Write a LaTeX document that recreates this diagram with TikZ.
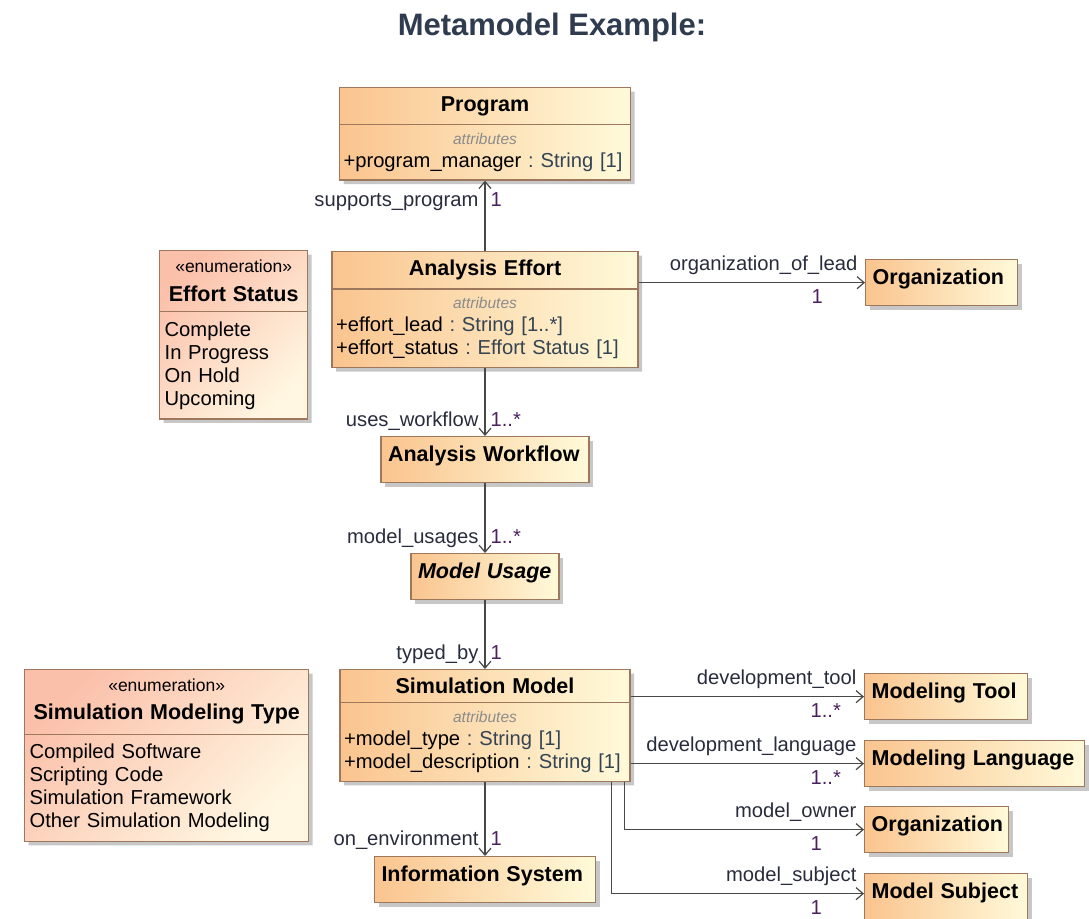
\documentclass[tikz,border=0pt]{standalone}
\usepackage{fontspec}
\setmainfont{Liberation Sans}
\usepackage{tikz}
\usetikzlibrary{arrows.meta,shapes,shapes.multipart,shadows,positioning}
\definecolor{clsL}{RGB}{250,196,142}
\definecolor{clsR}{RGB}{255,250,218}
\definecolor{enmL}{RGB}{251,192,170}
\definecolor{enmR}{RGB}{255,247,226}
\definecolor{cedge}{RGB}{158,120,92}
\definecolor{cline}{RGB}{72,72,72}
\definecolor{ctitle}{RGB}{47,59,78}
\definecolor{ctype}{RGB}{52,68,84}
\definecolor{crole}{RGB}{40,44,60}
\definecolor{cmult}{RGB}{74,32,96}
\definecolor{cattr}{RGB}{140,140,140}
\frenchspacing
\newcommand{\fbody}{\fontsize{20.2}{23}\selectfont}
\newcommand{\hd}[1]{{\fontsize{21.5}{25}\selectfont\bfseries #1}}
\newcommand{\attrs}{{\fontsize{15.5}{18}\selectfont\itshape\color{cattr}attributes}}
\newcommand{\ty}[1]{\textcolor{ctype}{#1}}
\newcommand{\stereo}{{\fontsize{17.5}{20}\selectfont «enumeration»}}
\newcommand{\ctr}[1]{\noindent\hbox to\hsize{\hfil#1\hfil}}

\begin{document}
\begin{tikzpicture}[x=1pt,y=-1pt,>={Straight Barb[length=7pt,width=12pt]},
  cls/.style={draw=cedge,line width=1.3pt,left color=clsL,right color=clsR,
              drop shadow={shadow xshift=4pt,shadow yshift=-4pt,fill=black,opacity=.22},
              font=\fbody,inner xsep=4pt,inner ysep=8pt},
  splt/.style={cls,rectangle split,rectangle split parts=2,align=left,anchor=north},
  enm/.style={splt,top color=enmL,bottom color=enmR,shading angle=45,
              inner xsep=5pt,inner ysep=9pt,anchor=north west},
  box/.style={cls,anchor=north west,align=left,inner xsep=7pt,inner ysep=10pt,
              text height=15pt,text depth=11pt},
  link/.style={->,draw=cline,line width=1.2pt},
  role/.style={font=\fbody,text=crole,inner sep=0pt},
  mult/.style={font=\fbody,text=cmult,inner sep=0pt},
  rolev/.style={role,pos=.86,anchor=base east,xshift=-6pt},
  multv/.style={mult,pos=.86,anchor=base west,xshift=5pt},
  roleh/.style={role,pos=1,anchor=base east,xshift=-7pt,yshift=12pt},
  multh/.style={mult,pos=1,anchor=base west,xshift=-54pt,yshift=-21pt}]
\useasboundingbox (0,0) rectangle (1089,918);
\node (title) [font=\fontsize{31}{35}\selectfont\bfseries,text=ctitle] at (552,27)
      {Metamodel Example:};

% classes
\node (prog) [splt,text width=283pt] at (485,87)
      {\ctr{\hd{Program}}\nodepart{second}\ctr{\attrs}\\
       \mbox{+program\_manager \ty{: String [1]}}};
\node (ae) [splt,text width=298pt] at (485,251)
      {\ctr{\hd{Analysis Effort}}\nodepart{second}\ctr{\attrs}\\
       \mbox{+effort\_lead \ty{: String [1..*]}}\\
       \mbox{+effort\_status \ty{: Effort Status [1]}}};
\node (es) [enm,text width=138pt] at (159,250)
      {\ctr{\stereo}\\[6pt]\ctr{\hd{Effort Status}}\nodepart{second}
       Complete\\In Progress\\On Hold\\Upcoming};
\node (org) [box,text width=138pt] at (865,259) {\hd{Organization}};
\node (aw) [box,anchor=north,text width=194pt] at (485,436) {\hd{Analysis Workflow}};
\node (mu) [box,anchor=north,text width=134pt] at (485,553) {\hd{\itshape Model Usage}};
\node (sm) [splt,text width=282pt] at (485,669)
      {\ctr{\hd{Simulation Model}}\nodepart{second}\ctr{\attrs}\\
       \mbox{+model\_type \ty{: String [1]}}\\
       \mbox{+model\_description \ty{: String [1]}}};
\node (smt) [enm,text width=274pt] at (24,669)
      {\ctr{\stereo}\\[5pt]\ctr{\hd{Simulation Modeling Type}}\nodepart{second}
       Compiled Software\\Scripting Code\\Simulation Framework\\Other Simulation Modeling};
\node (mt) [box,text width=149pt] at (864,673) {\hd{Modeling Tool}};
\node (ml) [box,text width=206pt] at (864,740) {\hd{Modeling Language}};
\node (org2) [box,text width=130pt] at (864,806) {\hd{Organization}};
\node (ms) [box,text width=149pt] at (864,873) {\hd{Model Subject}};
\node (is) [box,anchor=north,text width=207pt] at (485,856) {\hd{Information System}};

% associations
\draw[link] (ae.north) -- (prog.south)
  node[role,pos=.635,anchor=base east,xshift=-6pt] {supports\_program}
  node[mult,pos=.635,anchor=base west,xshift=5pt] {1};
\draw[link] (org.west -| ae.east) -- (org.west)
  node[roleh] {organization\_of\_lead} node[multh] {1};
\draw[link] (ae.south) -- (aw.north)
  node[rolev] {uses\_workflow} node[multv] {1..*};
\draw[link] (aw.south) -- (mu.north)
  node[rolev] {model\_usages} node[multv] {1..*};
\draw[link] (mu.south) -- (sm.north)
  node[rolev] {typed\_by} node[multv] {1};
\draw[link] (sm.south) -- (is.north)
  node[rolev] {on\_environment} node[multv] {1};
\draw[link] (mt.west -| sm.east) -- (mt.west)
  node[roleh] {development\_tool} node[multh] {1..*};
\draw[link] (ml.west -| sm.east) -- (ml.west)
  node[roleh] {development\_language} node[multh] {1..*};
\draw[link] ([xshift=-6pt]sm.south east) |- (org2.west)
  node[roleh] {model\_owner} node[multh] {1};
\draw[link] ([xshift=-19pt]sm.south east) |- ([yshift=3pt]ms.west)
  node[roleh] {model\_subject} node[multh] {1};
\end{tikzpicture}
\end{document}
